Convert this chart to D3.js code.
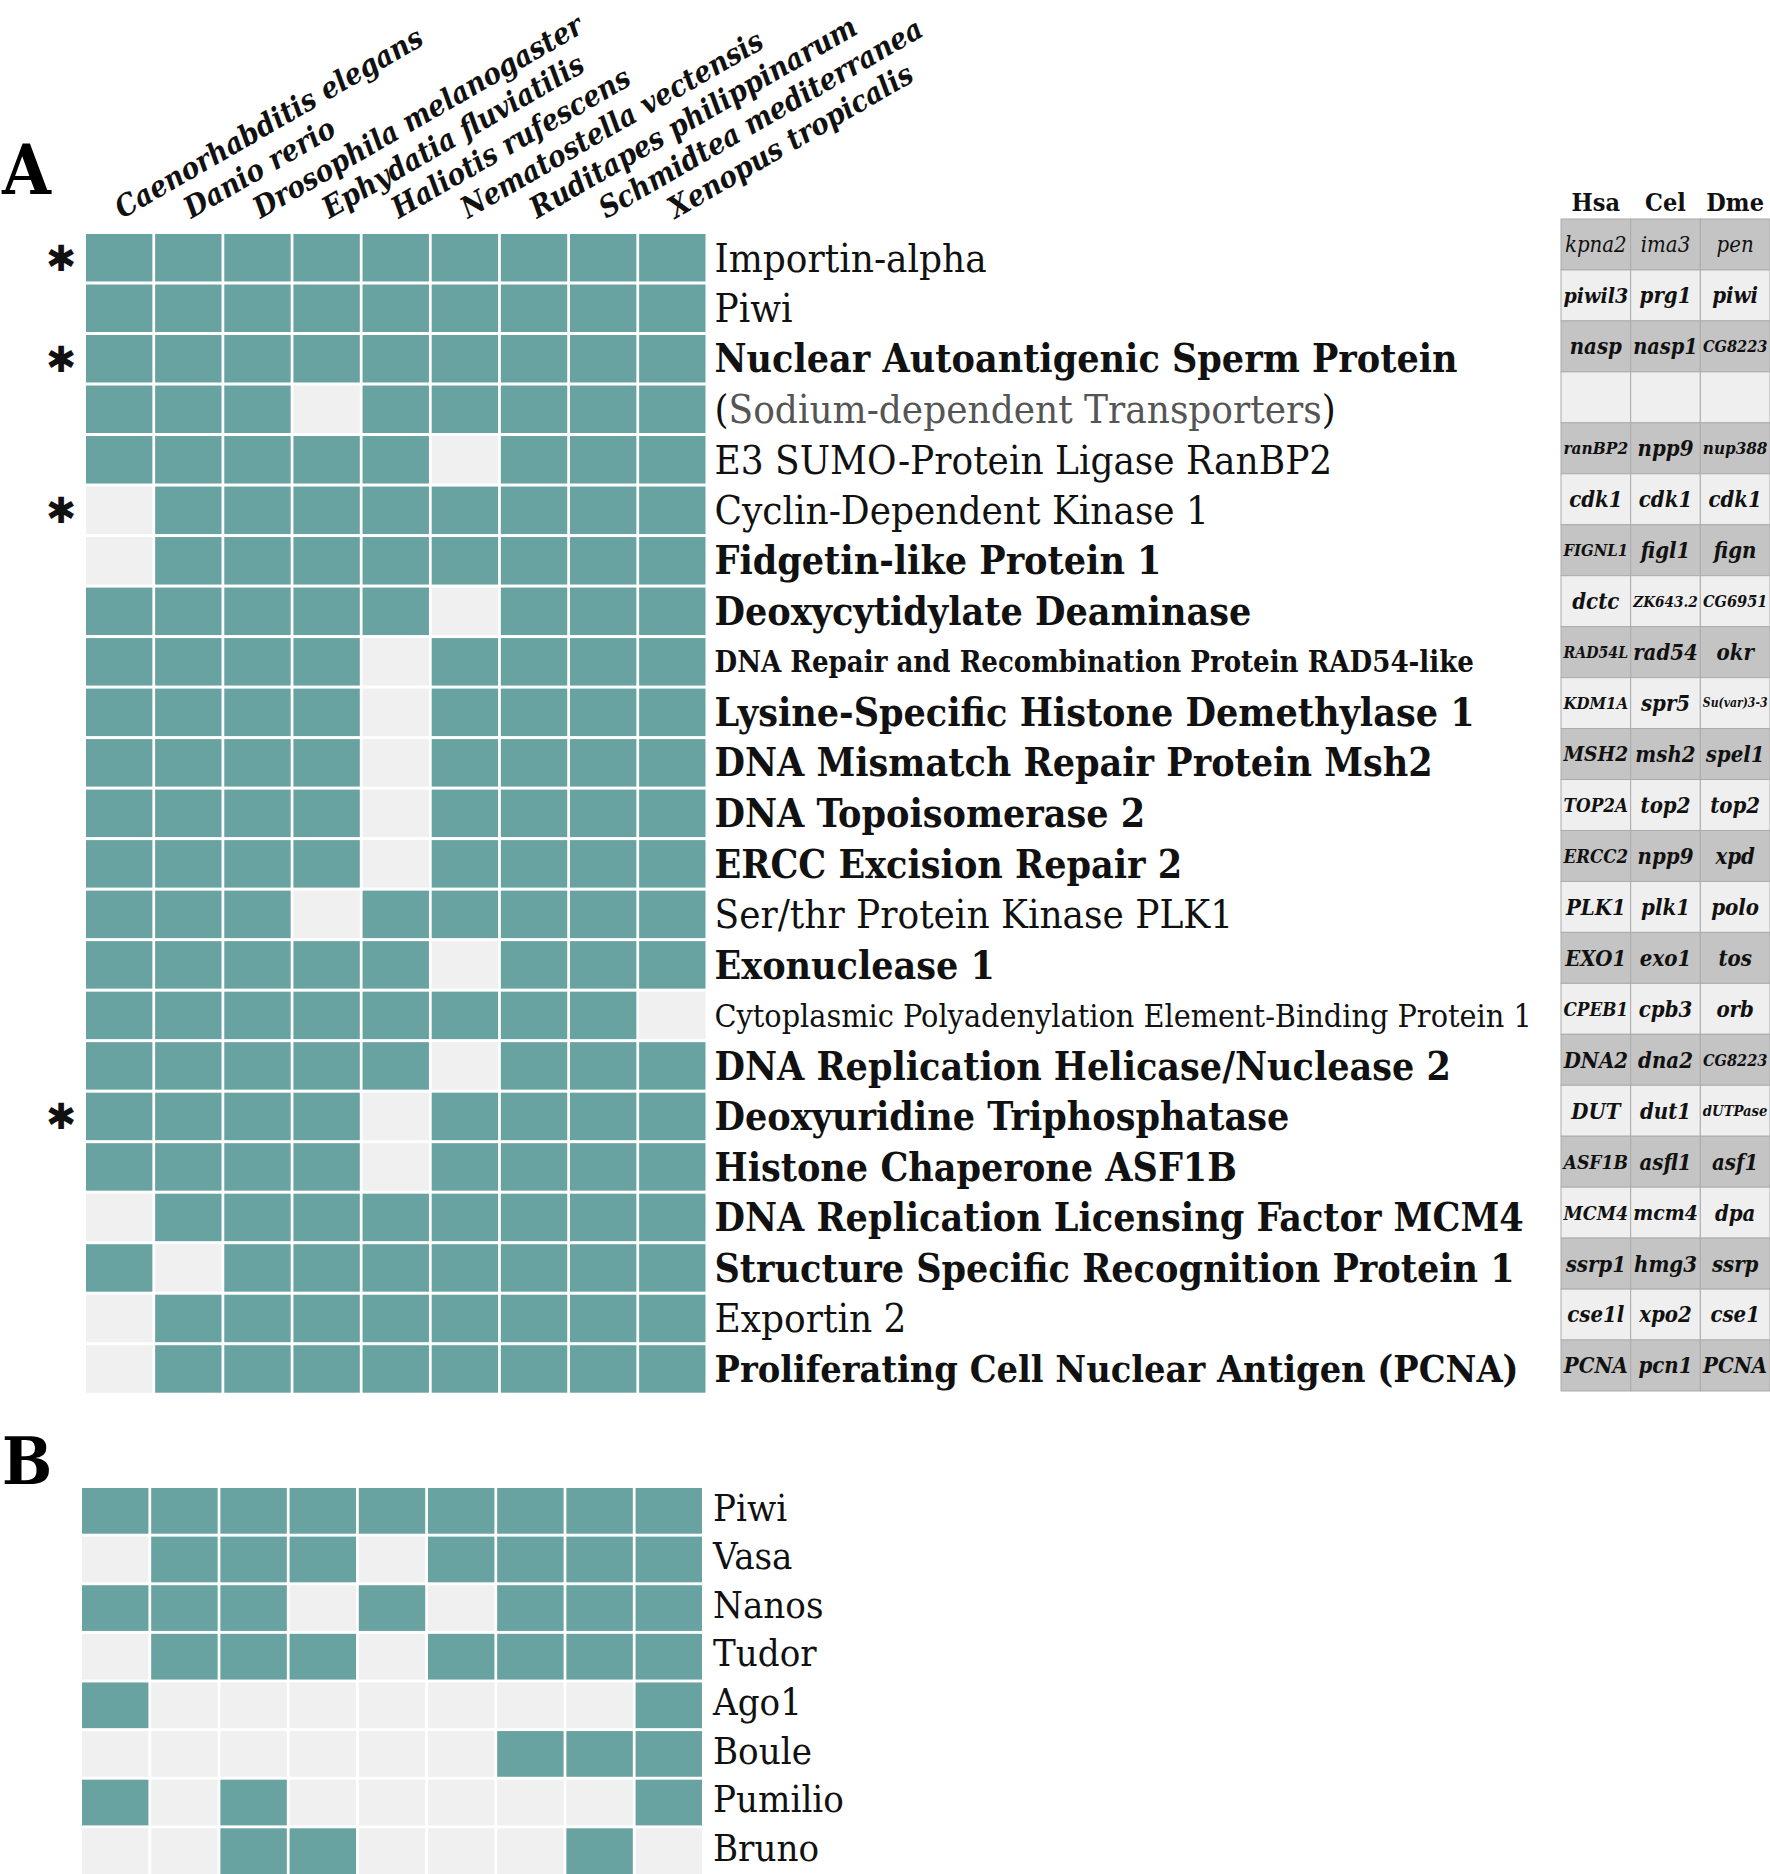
<!DOCTYPE html>
<html><head><meta charset="utf-8">
<script src="https://cdn.jsdelivr.net/npm/d3@7"></script>
<style>
html,body{margin:0;padding:0;background:#fff;}
svg{display:block;}
</style></head><body>
<svg id="chart" width="1770" height="1874"></svg>
<script>
// ---------------- data ----------------
const species = ["Caenorhabditis elegans","Danio rerio","Drosophila melanogaster","Ephydatia fluviatilis","Haliotis rufescens","Nematostella vectensis","Ruditapes philippinarum","Schmidtea mediterranea","Xenopus tropicalis"];

const proteinsA = ["Importin-alpha","Piwi","Nuclear Autoantigenic Sperm Protein","(Sodium-dependent Transporters)","E3 SUMO-Protein Ligase RanBP2","Cyclin-Dependent Kinase 1","Fidgetin-like Protein 1","Deoxycytidylate Deaminase","DNA Repair and Recombination Protein RAD54-like","Lysine-Specific Histone Demethylase 1","DNA Mismatch Repair Protein Msh2","DNA Topoisomerase 2","ERCC Excision Repair 2","Ser/thr Protein Kinase PLK1","Exonuclease 1","Cytoplasmic Polyadenylation Element-Binding Protein 1","DNA Replication Helicase/Nuclease 2","Deoxyuridine Triphosphatase","Histone Chaperone ASF1B","DNA Replication Licensing Factor MCM4","Structure Specific Recognition Protein 1","Exportin 2","Proliferating Cell Nuclear Antigen (PCNA)"];

const presenceA = [
  [1,1,1,1,1,1,1,1,1],
  [1,1,1,1,1,1,1,1,1],
  [1,1,1,1,1,1,1,1,1],
  [1,1,1,0,1,1,1,1,1],
  [1,1,1,1,1,0,1,1,1],
  [0,1,1,1,1,1,1,1,1],
  [0,1,1,1,1,1,1,1,1],
  [1,1,1,1,1,0,1,1,1],
  [1,1,1,1,0,1,1,1,1],
  [1,1,1,1,0,1,1,1,1],
  [1,1,1,1,0,1,1,1,1],
  [1,1,1,1,0,1,1,1,1],
  [1,1,1,1,0,1,1,1,1],
  [1,1,1,0,1,1,1,1,1],
  [1,1,1,1,1,0,1,1,1],
  [1,1,1,1,1,1,1,1,0],
  [1,1,1,1,1,0,1,1,1],
  [1,1,1,1,0,1,1,1,1],
  [1,1,1,1,0,1,1,1,1],
  [0,1,1,1,1,1,1,1,1],
  [1,0,1,1,1,1,1,1,1],
  [0,1,1,1,1,1,1,1,1],
  [0,1,1,1,1,1,1,1,1]
];

const starredA = ["Importin-alpha","Nuclear Autoantigenic Sperm Protein","Cyclin-Dependent Kinase 1","Deoxyuridine Triphosphatase"];

const orthologCols = ["Hsa","Cel","Dme"];
const hsaGenes = ["kpna2","piwil3","nasp","","ranBP2","cdk1","FIGNL1","dctc","RAD54L","KDM1A","MSH2","TOP2A","ERCC2","PLK1","EXO1","CPEB1","DNA2","DUT","ASF1B","MCM4","ssrp1","cse1l","PCNA"];
const celGenes = ["ima3","prg1","nasp1","","npp9","cdk1","figl1","ZK643.2","rad54","spr5","msh2","top2","npp9","plk1","exo1","cpb3","dna2","dut1","asfl1","mcm4","hmg3","xpo2","pcn1"];
const dmeGenes = ["pen","piwi","CG8223","","nup388","cdk1","fign","CG6951","okr","Su(var)3-3","spel1","top2","xpd","polo","tos","orb","CG8223","dUTPase","asf1","dpa","ssrp","cse1","PCNA"];

const proteinsB = ["Piwi","Vasa","Nanos","Tudor","Ago1","Boule","Pumilio","Bruno"];
const presenceB = [
  [1,1,1,1,1,1,1,1,1],
  [0,1,1,1,0,1,1,1,1],
  [1,1,1,0,1,0,1,1,1],
  [0,1,1,1,0,1,1,1,1],
  [1,0,0,0,0,0,0,0,1],
  [0,0,0,0,0,0,1,1,1],
  [1,0,1,0,0,0,0,0,1],
  [0,0,1,1,0,0,0,1,0]
];

// ---------------- styles ----------------
const labelStyleA = ["r","r","b","g","r","r","b","b","bs","b","b","b","b","r","b","rs","b","b","b","b","b","r","bn"];
const styleDefs = {
  r:  {weight:400, size:40, fill:"#111"},
  g:  {weight:400, size:40, fill:"#555"},
  b:  {weight:700, size:39, fill:"#111"},
  bn: {weight:700, size:37.5, fill:"#111"},
  bs: {weight:700, size:29, fill:"#111"},
  rs: {weight:400, size:32, fill:"#111"}
};
const SERIF = "'DejaVu Serif Condensed','DejaVu Serif',serif";
const TEAL = "#68a2a1", EMPTY = "#f0f0f0";

const svg = d3.select("#chart");

// ---------------- Panel A ----------------
const xA = d3.scaleBand().domain(species).range([86, 705.5]).paddingInner(0.04);
const yA = d3.scaleBand().domain(proteinsA).range([234, 1392.7]).paddingInner(0.06);

const cellsA = [];
proteinsA.forEach((p,i)=>species.forEach((s,j)=>cellsA.push({p,s,v:presenceA[i][j]})));
svg.append("g").selectAll("rect").data(cellsA).join("rect")
  .attr("x",d=>xA(d.s)).attr("y",d=>yA(d.p))
  .attr("width",xA.bandwidth()).attr("height",yA.bandwidth())
  .attr("fill",d=>d.v?TEAL:EMPTY);

// column labels
svg.append("g").selectAll("text").data(species).join("text")
  .attr("transform",d=>`translate(${xA(d)+xA.bandwidth()/2+3},219) rotate(-30)`)
  .attr("font-family",SERIF).attr("font-style","italic").attr("font-weight",700)
  .attr("font-size",29.5).attr("fill","#111")
  .text(d=>d);

// row labels
const rowLab = svg.append("g").selectAll("text").data(proteinsA).join("text")
  .attr("x",714.5).attr("y",d=>yA(d)+yA.bandwidth()/2).attr("dy","0.35em")
  .attr("font-family",SERIF)
  .attr("font-weight",(d,i)=>styleDefs[labelStyleA[i]].weight)
  .attr("font-size",(d,i)=>styleDefs[labelStyleA[i]].size)
  .attr("fill",(d,i)=>styleDefs[labelStyleA[i]].fill);
rowLab.each(function(d,i){
  const t = d3.select(this);
  if (labelStyleA[i]==="g" && d.startsWith("(") && d.endsWith(")")) {
    t.append("tspan").attr("fill","#111").text("(");
    t.append("tspan").text(d.slice(1,-1));
    t.append("tspan").attr("fill","#111").text(")");
  } else t.text(d);
});

// asterisks
svg.append("g").selectAll("text").data(starredA).join("text")
  .attr("x",61).attr("y",d=>yA(d)+yA.bandwidth()/2).attr("dy","0.36em")
  .attr("text-anchor","middle").attr("font-family","'DejaVu Sans',sans-serif")
  .attr("font-size",36).attr("fill","#111").text("\u2731");

// panel letters
svg.append("text").attr("x",2).attr("y",194).attr("font-family",SERIF)
  .attr("font-weight",700).attr("font-size",70).attr("fill","#000").text("A");
svg.append("text").attr("x",2).attr("y",1484).attr("font-family",SERIF)
  .attr("font-weight",700).attr("font-size",66).attr("fill","#000").text("B");

// ---------------- Ortholog table ----------------
const xT = d3.scaleBand().domain(orthologCols).range([1561, 1770]);
const yT = d3.scaleBand().domain(proteinsA).range([219, 1391]);
const geneCols = {Hsa:hsaGenes, Cel:celGenes, Dme:dmeGenes};
const tCells = [];
proteinsA.forEach((p,i)=>orthologCols.forEach(c=>tCells.push({p,i,c,g:geneCols[c][i]})));
const tg = svg.append("g");
tg.selectAll("rect").data(tCells).join("rect")
  .attr("x",d=>xT(d.c)).attr("y",d=>yT(d.p))
  .attr("width",xT.bandwidth()).attr("height",yT.bandwidth())
  .attr("fill",d=>d.i%2===0?"#c4c4c4":"#efefef")
  .attr("stroke","#acacac").attr("stroke-width",1);
const BASE = 22;
tg.selectAll("text.gene").data(tCells).join("text").attr("class","gene")
  .attr("x",d=>xT(d.c)+xT.bandwidth()/2).attr("y",d=>yT(d.p)+yT.bandwidth()/2)
  .attr("dy","0.36em").attr("text-anchor","middle")
  .attr("font-family",SERIF).attr("font-style","italic")
  .attr("font-weight",d=>d.i===0?400:700)
  .attr("font-size",BASE).attr("fill","#111")
  .text(d=>d.g)
  .each(function(){
    const w = this.getComputedTextLength(), maxW = xT.bandwidth()-5;
    if (w>maxW) d3.select(this).attr("font-size",BASE*maxW/w);
  });
tg.selectAll("text.hdr").data(orthologCols).join("text").attr("class","hdr")
  .attr("x",d=>xT(d)+xT.bandwidth()/2).attr("y",210.5)
  .attr("text-anchor","middle").attr("font-family",SERIF).attr("font-weight",700)
  .attr("font-size",25).attr("fill","#111").text(d=>d);

// ---------------- Panel B ----------------
const xB = d3.scaleBand().domain(species).range([82, 702]).paddingInner(0.04);
const yB = d3.scaleBand().domain(proteinsB).range([1488, 1874]).paddingInner(0.06);
const cellsB = [];
proteinsB.forEach((p,i)=>species.forEach((s,j)=>cellsB.push({p,s,v:presenceB[i][j]})));
svg.append("g").selectAll("rect").data(cellsB).join("rect")
  .attr("x",d=>xB(d.s)).attr("y",d=>yB(d.p))
  .attr("width",xB.bandwidth()).attr("height",yB.bandwidth())
  .attr("fill",d=>d.v?TEAL:EMPTY);
svg.append("g").selectAll("text").data(proteinsB).join("text")
  .attr("x",713).attr("y",d=>yB(d)+yB.bandwidth()/2 - 4).attr("dy","0.36em")
  .attr("font-family",SERIF).attr("font-size",38).attr("fill","#111").text(d=>d);
</script>
</body></html>
